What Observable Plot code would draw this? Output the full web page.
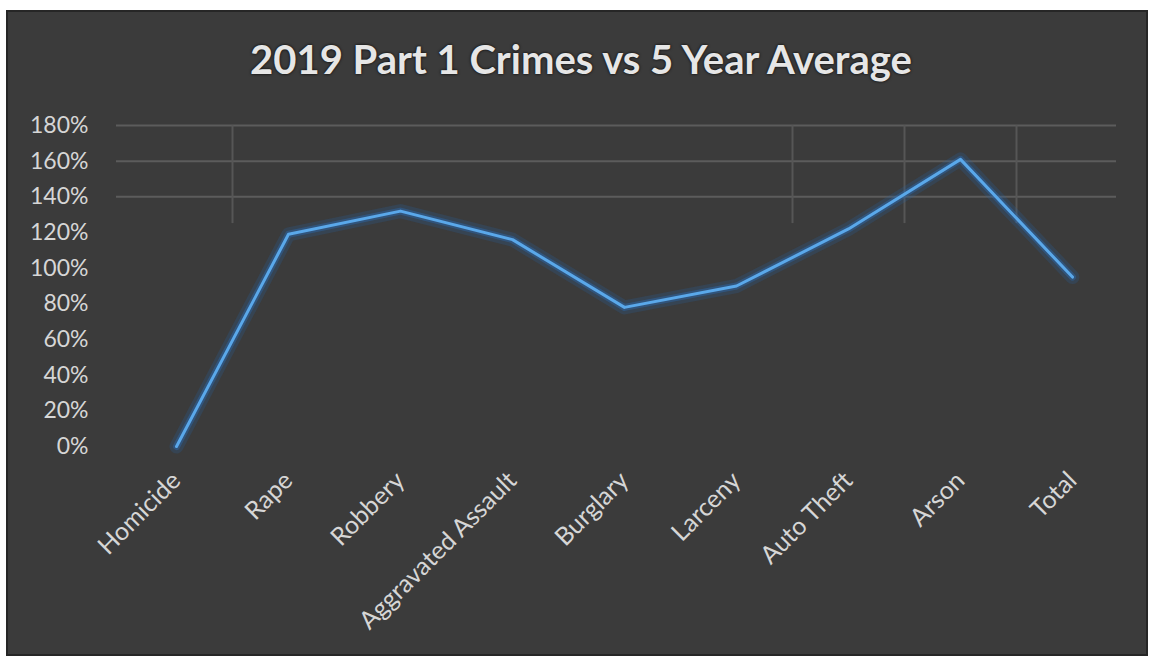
<!DOCTYPE html>
<html>
<head>
<meta charset="utf-8">
<script src="https://cdn.jsdelivr.net/npm/d3@7"></script>
<script src="https://cdn.jsdelivr.net/npm/@observablehq/plot@0.6"></script>
<style>
  html, body { margin: 0; padding: 0; background: #ffffff; width: 1150px; height: 660px; overflow: hidden; }
  #frame { position: absolute; left: 6px; top: 10px; width: 1138px; height: 642px;
           background: #3b3b3b; border: 2px solid #262626; }
  #title { position: absolute; left: 0; top: 35px; width: 1162px; text-align: center;
           font-family: Lato, "Open Sans", sans-serif; font-weight: bold; font-size: 40px;
           color: #e6e6e6; text-shadow: 0 0 3px #000; }
  #chart { position: absolute; left: 0; top: 0; }
</style>
</head>
<body>
<div id="frame"></div>
<div id="chart"></div>
<div id="title">2019 Part 1 Crimes vs 5 Year Average</div>
<script>
const categories = ["Homicide", "Rape", "Robbery", "Aggravated Assault", "Burglary", "Larceny", "Auto Theft", "Arson", "Total"];
const values = [0, 119, 132, 116, 78, 90, 122, 161, 95]; // percent of 5-year average
const yTicks = [0, 20, 40, 60, 80, 100, 120, 140, 160, 180];
const visibleGrid = [140, 160, 180];
const verticalGridAt = ["Rape", "Auto Theft", "Arson", "Total"];

const data = categories.map((c, i) => ({category: c, value: values[i]}));

const plot = Plot.plot({
  width: 1150,
  height: 660,
  marginLeft: 116,
  marginRight: 34,
  marginTop: 125,
  marginBottom: 214,
  style: {background: "transparent", color: "#d6d6d6", fontFamily: "Lato, 'Open Sans', sans-serif"},
  x: {type: "point", domain: categories, range: [175, 1072], padding: 0, label: null},
  y: {domain: [0, 180], label: null},
  marks: [
    Plot.ruleY(visibleGrid, {stroke: "#5c5c5c", strokeWidth: 2}),
    Plot.ruleX(verticalGridAt, {x: d => d, dx: -56, y1: 125, y2: 180, stroke: "#565656", strokeWidth: 2}),
    Plot.axisY({ticks: yTicks, tickSize: 0, tickPadding: 28, tickFormat: d => d + "%", fontSize: 23, fill: "#d6d6d6"}),
    Plot.axisX({tickSize: 0, tickPadding: 30, tickRotate: -45, fontSize: 25, fill: "#d6d6d6"}),
    Plot.line(data, {x: "category", y: "value", stroke: "#2563a8", strokeWidth: 14, strokeOpacity: 0.22}),
    Plot.line(data, {x: "category", y: "value", stroke: "#2a6fba", strokeWidth: 7, strokeOpacity: 0.4}),
    Plot.line(data, {x: "category", y: "value", stroke: "#5aa8ea", strokeWidth: 3})
  ]
});
document.getElementById("chart").appendChild(plot);
</script>
</body>
</html>
